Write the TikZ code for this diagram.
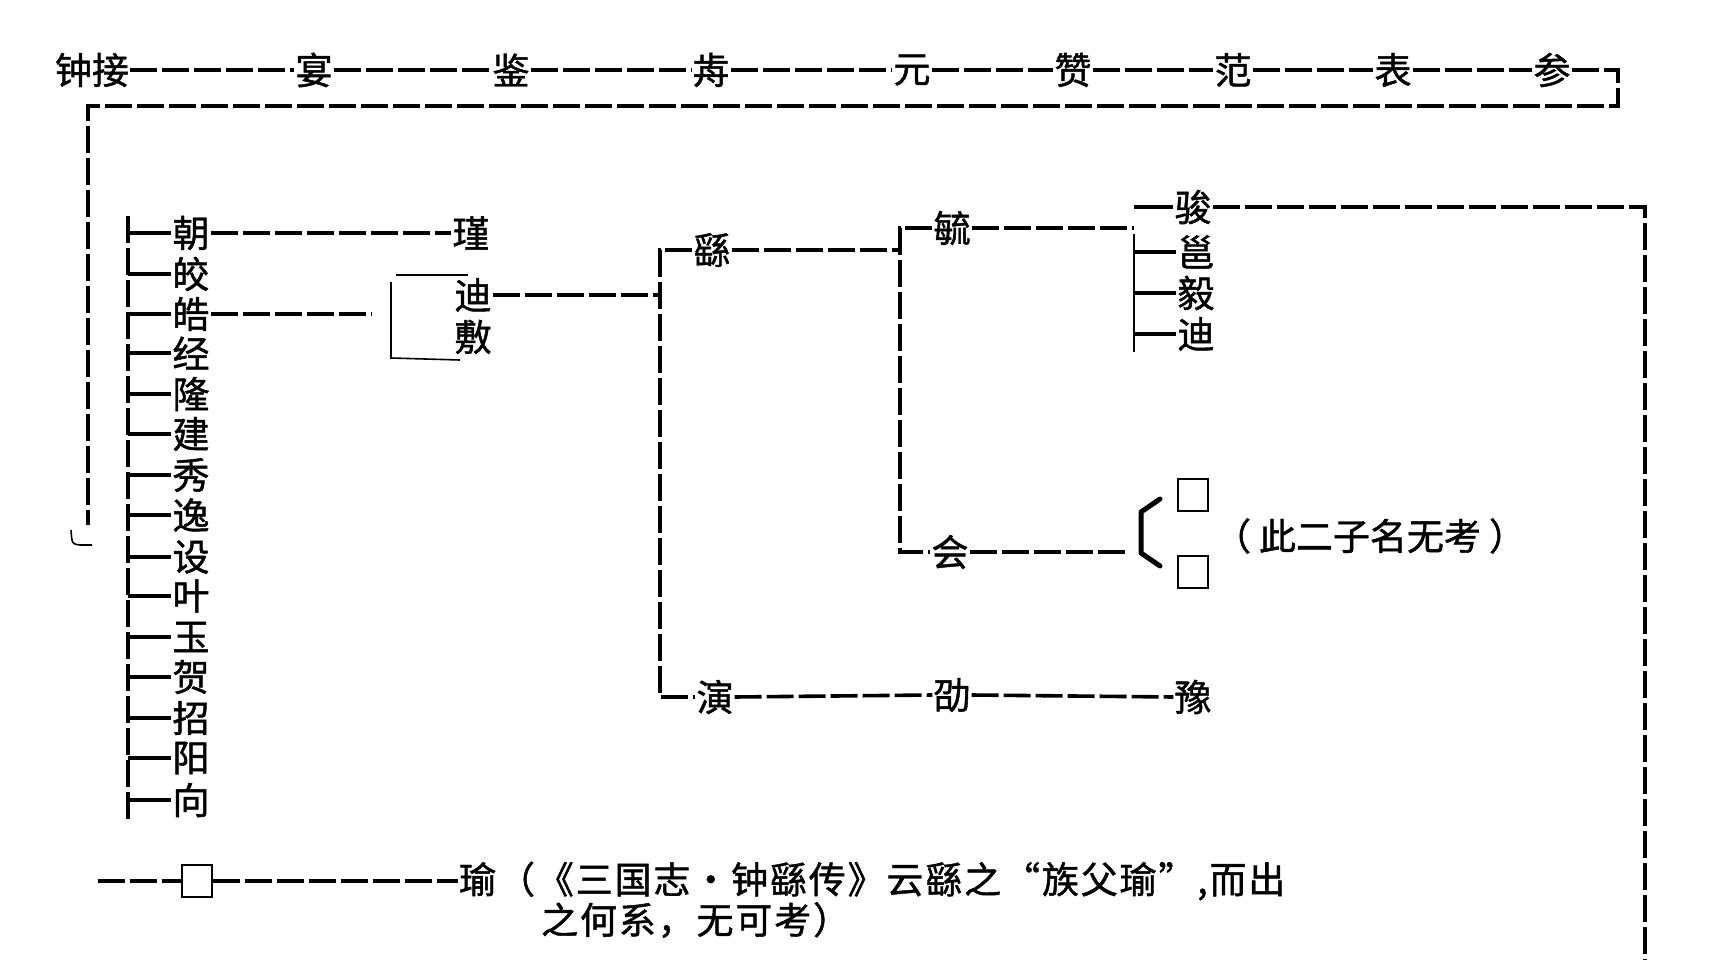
\documentclass[tikz,border=0pt]{standalone}
\usepackage{fontspec}
\newfontfamily\cjk{Noto Sans CJK SC}[FakeBold=1.2]
\newfontfamily\cjkw{Noto Sans CJK SC}[FakeBold=1.2, LetterSpace=5]
\begin{document}
\begin{tikzpicture}[x=1pt,y=-1pt,
  nm/.style={font=\cjk\fontsize{37}{40}\selectfont, inner sep=1pt, anchor=center},
  nw/.style={font=\cjkw\fontsize{37}{40}\selectfont, inner sep=1pt},
  dl/.style={line width=3.6pt, dash pattern=on 27pt off 5pt},
  sl/.style={line width=3.4pt},
  thinl/.style={line width=1.6pt},
  sbox/.style={draw, line width=1.6pt, minimum width=30pt, minimum height=32pt, inner sep=0pt}]
\useasboundingbox (0,0) rectangle (1716,960);
% top row
\node[nm] (zj) at (92,70) {钟接};
\node[nm] (yan) at (314,70) {宴};
\node[nm] (jian) at (511,70) {鉴};
\node[nm] (qian) at (711,70) {歬};
\node[nm] (yuan) at (912,70) {元};
\node[nm] (zan) at (1073,70) {赞};
\node[nm] (fan) at (1233,70) {范};
\node[nm] (biao) at (1393,70) {表};
\node[nm] (can) at (1552,70) {参};
\draw[dl] (zj.east) -- (yan.west);
\draw[dl] (yan.east) -- (jian.west);
\draw[dl] (jian.east) -- (qian.west);
\draw[dl] (qian.east) -- (yuan.west);
\draw[dl] (yuan.east) -- (zan.west);
\draw[dl] (zan.east) -- (fan.west);
\draw[dl] (fan.east) -- (biao.west);
\draw[dl] (biao.east) -- (can.west);
\coordinate (tr) at (1618,106);
\coordinate (tl) at (88,106);
\coordinate (bl) at (88,525);
\draw[dl] (can.east) -- (can.east -| tr) -- (tr) -- (tl) -- (bl);
\draw[thinl] (71,530) .. controls (72,544) .. (80,545) -- (92,545);
% left column
\coordinate (c1t) at (128,216);
\coordinate (c1b) at (128,819);
\draw[dl] (c1t) -- (c1b);
\foreach \n/\t/\y in {zhao/朝/233, jiao/皎/274, hao/皓/314, jing/经/353, long/隆/394, jianb/建/434, xiu/秀/475, yi1/逸/515, she/设/557, ye/叶/596, yu1/玉/637, he/贺/677, zhaob/招/718, yang/阳/758, xiang/向/800}{
  \node[nm] (\n) at (191,\y) {\t};
  \draw[sl] (\n.west -| c1t) -- (\n.west);
}
% 朝 -> 瑾
\node[nm] (jin) at (471,233) {瑾};
\draw[dl] (zhao.east) -- (jin.west);
% 皓 -> 迪 敷
\node[nm] (di1) at (473,295) {迪};
\node[nm] (fu) at (473,337) {敷};
\coordinate (hb) at (372,314);
\draw[dl] (hao.east) -- (hb);
\coordinate (bt1) at (396,275);
\coordinate (bt2) at (468,275);
\coordinate (bv1) at (391,282);
\coordinate (bv2) at (391,358);
\coordinate (bb) at (460,360);
\draw[thinl] (bt1) -- (bt2);
\draw[thinl] (bv1) -- (bv2) -- (bb);
% 迪 -> 繇 / 演
\node[nm] (yao) at (712,250) {繇};
\node[nm] (yan2) at (715,697) {演};
\coordinate (v2) at (660,0);
\draw[dl] (di1.east) -- (di1.east -| v2);
\draw[dl] (yao.west) -- (yao.west -| v2) -- (yan2.west -| v2) -- (yan2.west);
% 繇 -> 毓 / 会
\node[nm] (yu) at (952,228) {毓};
\node[nm] (hui) at (950,552) {会};
\coordinate (v3) at (900,0);
\draw[dl] (yao.east) -- (yao.east -| v3);
\draw[dl] (yu.west) -- (yu.west -| v3) -- (hui.west -| v3) -- (hui.west);
% 毓 -> sons
\node[nm] (jun) at (1193,207) {骏};
\node[nm] (yong) at (1196,252) {邕};
\node[nm] (yi) at (1196,293) {毅};
\node[nm] (di2) at (1196,334) {迪};
\coordinate (v4) at (1134,0);
\draw[dl] (yu.east) -- (yu.east -| v4);
\draw[sl] (jun.west) -- (jun.west -| v4);
\draw[thinl] (yong.north -| v4) -- (di2.south -| v4);
\foreach \n in {yong, yi, di2}{
  \draw[sl] (\n.west -| v4) -- (\n.west);
}
\coordinate (v5b) at (1645,960);
\draw[dl] (jun.east) -- (jun.east -| v5b) -- (v5b);
% 会 -> two unknown sons
\coordinate (hk) at (1127,552);
\draw[dl] (hui.east) -- (hk);
\draw[line width=5pt, line cap=round, line join=round] (1160,499) -- (1141,512) -- (1141,553) -- (1160,566);
\node[sbox] (s1) at (1193,495) {};
\node[sbox] (s2) at (1193,572) {};
\node[nm] (note) at (1370,536) {（\hspace{8pt}此二子名无考\hspace{8pt}）};
% 演 -> 劭 -> 豫
\node[nm] (shao) at (952,695) {劭};
\node[nm] (yu2) at (1193,697) {豫};
\draw[dl] (yan2.east) -- (shao.west);
\draw[dl] (shao.east) -- (yu2.west);
% bottom
\coordinate (bs) at (98,881);
\node[sbox] (s3) at (197,881) {};
\node[nw, anchor=west] (yuu) at (458,881) {瑜（《三国志·钟繇传》云繇之“族父瑜”,而出};
\node[nw, anchor=west] (yuu2) at (540,920) {之何系，无可考）};
\draw[dl] (bs) -- (s3.west);
\draw[dl] (s3.east) -- (yuu.west);
\end{tikzpicture}
\end{document}
